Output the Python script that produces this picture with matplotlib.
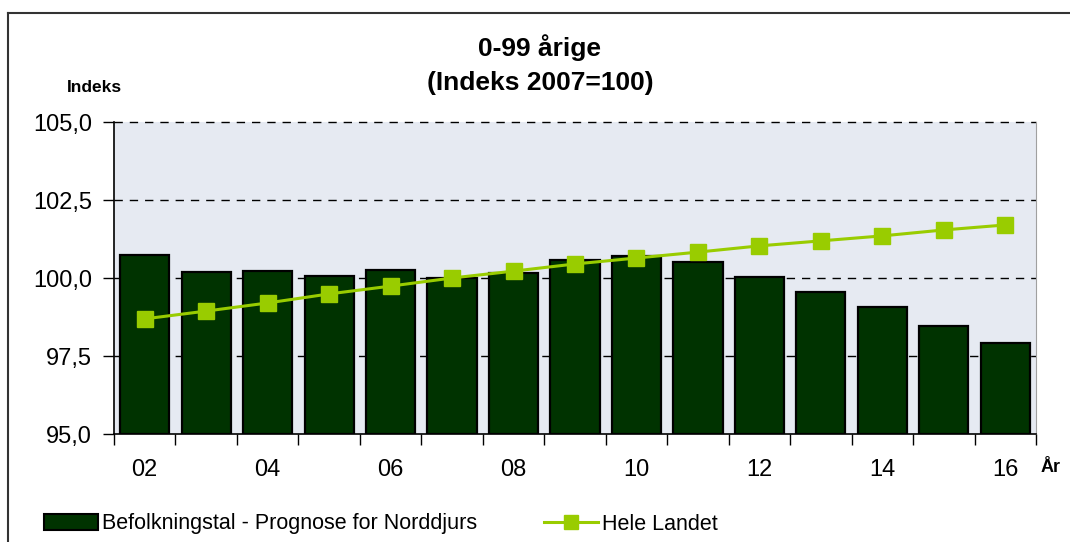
import matplotlib
matplotlib.use("Agg")
import matplotlib.pyplot as plt
from matplotlib.ticker import FuncFormatter, FixedLocator
from matplotlib.lines import Line2D
from matplotlib.patches import Patch

plt.rcParams['font.family'] = ['Liberation Sans', 'DejaVu Sans']

years = ["02", "03", "04", "05", "06", "07", "08", "09", "10", "11", "12", "13", "14", "15", "16"]
norddjurs = [100.74, 100.19, 100.22, 100.06, 100.26, 100.0, 100.16, 100.58, 100.70,
             100.50, 100.02, 99.56, 99.07, 98.47, 97.93]
hele_landet = [98.69, 98.94, 99.20, 99.49, 99.74, 100.0, 100.22, 100.45, 100.64,
               100.83, 101.03, 101.19, 101.35, 101.54, 101.70]
yticks = [95.0, 97.5, 100.0, 102.5, 105.0]

bar_label = "Befolkningstal - Prognose for Norddjurs"
line_label = "Hele Landet"

fig = plt.figure(figsize=(10.70, 5.42), dpi=100)
ax = fig.add_axes([114/1070, 1 - 434/542, (1036-114)/1070, (434-122)/542])
ax.set_facecolor('#E6EAF2')

x = list(range(len(years)))
ax.bar(x, [v - 95.0 for v in norddjurs], bottom=95.0, width=0.8, color='#003300',
       edgecolor='black', linewidth=1.6, zorder=3)
ax.plot(x, hele_landet, color='#99CC00', linewidth=2.2, marker='s', markersize=11,
        markerfacecolor='#99CC00', markeredgecolor='#99CC00', zorder=4)

ax.set_xlim(-0.5, len(years) - 0.5)
ax.set_ylim(95.0, 105.0)
ax.set_yticks(yticks)
ax.yaxis.set_major_formatter(FuncFormatter(lambda v, p: f"{v:.1f}".replace('.', ',')))
ax.tick_params(axis='y', labelsize=17, length=8, width=1, pad=8, direction='out')

ax.set_xticks(x[::2])
ax.set_xticklabels(years[::2])
ax.xaxis.set_minor_locator(FixedLocator([i - 0.5 for i in range(len(years) + 1)]))
ax.tick_params(axis='x', which='major', length=0, labelsize=17, pad=18)
ax.tick_params(axis='x', which='minor', length=8, width=1, direction='out')

for yv in yticks[1:]:
    ax.axhline(yv, color='black', linestyle=(0, (6, 5)), linewidth=1, zorder=1, clip_on=False)

ax.spines['top'].set_visible(False)
ax.spines['right'].set_color('#A0A0A0')
ax.spines['left'].set_color('black')
ax.spines['bottom'].set_color('black')
ax.spines['left'].set_linewidth(1.2)
ax.spines['bottom'].set_linewidth(1.2)

fig.text(540/1070, 1 - 48/542, "0-99 årige", ha='center', va='center', fontsize=19, fontweight='bold')
fig.text(540/1070, 1 - 83/542, "(Indeks 2007=100)", ha='center', va='center', fontsize=19, fontweight='bold')
fig.text(67/1070, 1 - 88/542, "Indeks", ha='left', va='center', fontsize=12.5, fontweight='bold')
fig.text(1041/1070, 1 - 467/542, "År", ha='left', va='center', fontsize=13, fontweight='bold')

# figure frame (top and left)
fig.add_artist(Line2D([8/1070, 8/1070], [0, 1 - 13/542], transform=fig.transFigure, color='#333333', linewidth=1.5))
fig.add_artist(Line2D([8/1070, 1], [1 - 13/542, 1 - 13/542], transform=fig.transFigure, color='#333333', linewidth=1.5))

handles = [Patch(facecolor='#003300', edgecolor='black', linewidth=1.5, label=bar_label),
           Line2D([], [], color='#99CC00', linewidth=2.2, marker='s', markersize=10, label=line_label)]
fig.legend(handles=handles, loc='center left', bbox_to_anchor=(44/1070, 18/542), ncol=2,
           frameon=False, fontsize=15.5, handlelength=2.5, handletextpad=0.2, columnspacing=3.1,
           handleheight=0.8, borderpad=0, borderaxespad=0)

fig.savefig("out.png", dpi=100)
